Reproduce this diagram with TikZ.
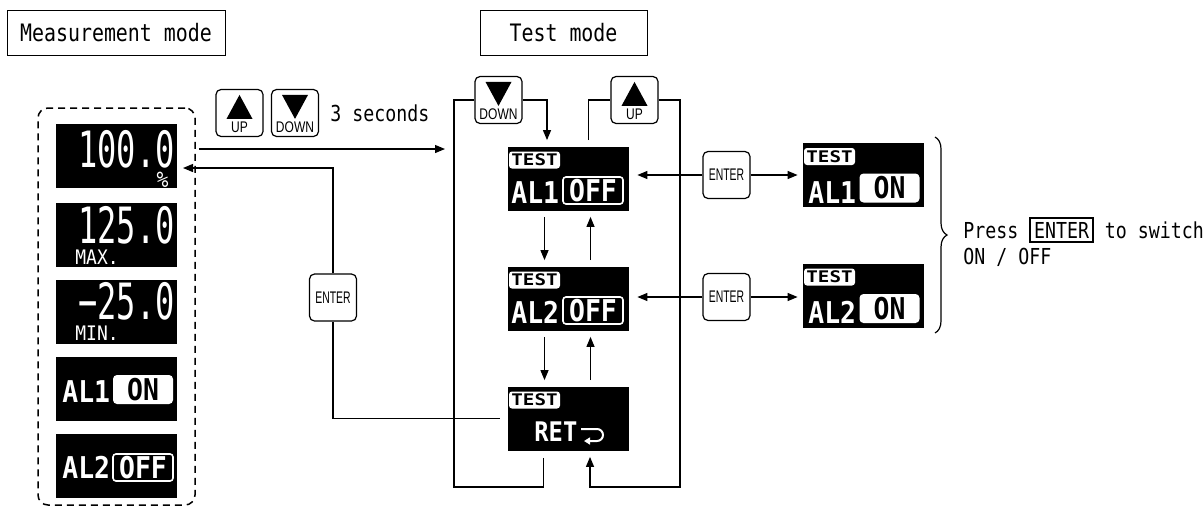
\documentclass[tikz,border=0pt]{standalone}
\usepackage{fontspec}
\setmainfont[FakeStretch=0.83]{DejaVu Sans Mono}
\newfontfamily\lcdthin[FakeStretch=0.64]{DejaVu Sans Mono}
\newfontfamily\lcdsmall[FakeStretch=0.9]{DejaVu Sans Mono}
\newfontfamily\lcdbold[FakeStretch=0.88]{DejaVu Sans Mono}
\newfontfamily\lcdtag[FakeStretch=1.2]{DejaVu Sans Mono}
\newfontfamily\keyfont[FakeStretch=0.62]{Liberation Sans}
\newfontfamily\keywide[FakeStretch=0.78]{Liberation Sans}
\usetikzlibrary{arrows.meta, decorations.pathreplacing}
\setlength{\fboxsep}{1.5pt}
\setlength{\fboxrule}{0.9pt}

\begin{document}
\begin{tikzpicture}[x=0.5pt, y=-0.5pt, font=\fontsize{11pt}{13pt}\selectfont,
  >={Triangle[length=5pt,width=4pt]},
  flow/.style={line width=0.6pt},
  titlebox/.style={draw, line width=0.5pt, minimum height=22.5pt, inner sep=0, font=\fontsize{12pt}{13pt}\selectfont},
  lcd/.style={fill=black, minimum width=60.5pt, minimum height=32pt, inner sep=0},
  keybtn/.style={draw, fill=white, line width=0.6pt, rounded corners=2.5pt, minimum width=23.5pt, minimum height=23.5pt, inner sep=0, font=\keyfont\fontsize{8.4pt}{9pt}\selectfont},
  keylabel/.style={inner sep=0, font=\keywide\fontsize{7.7pt}{8pt}\selectfont},
  testtag/.style={fill=white, rounded corners=1.5pt, minimum width=25.5pt, minimum height=8.5pt, inner sep=0, font=\lcdtag\bfseries\fontsize{8pt}{8pt}\selectfont},
  offbox/.style={draw=white, line width=0.8pt, rounded corners=1.5pt, minimum width=30pt, minimum height=13.5pt, inner sep=0, text=white, font=\lcdbold\bfseries\fontsize{15pt}{15pt}\selectfont},
  onbox/.style={fill=white, rounded corners=2pt, minimum width=30pt, minimum height=14.5pt, inner sep=0, text=black, font=\lcdbold\bfseries\fontsize{15pt}{15pt}\selectfont},
  altext/.style={text=white, inner sep=0, anchor=base west, font=\lcdbold\bfseries\fontsize{15pt}{15pt}\selectfont},
  lcddigits/.style={text=white, inner sep=0, anchor=base east, font=\lcdthin\fontsize{25pt}{25pt}\selectfont},
  lcdunit/.style={text=white, inner sep=0, font=\lcdsmall\fontsize{10pt}{10pt}\selectfont}]

\useasboundingbox (0,0) rectangle (1203,509);

%Titles
\node[titlebox, minimum width=109pt] (meastitle) at (116,32.5) {Measurement mode};
\node[titlebox, minimum width=83.5pt] (testtitle) at (563.5,32.5) {Test mode};

%Measurement mode displays
\node[draw, line width=0.75pt, rounded corners=5pt, dash pattern=on 3.5pt off 2.5pt, minimum width=78.5pt, minimum height=198.5pt] (measgroup) at (116.5,306.5) {};
\node[lcd] (d1) at (116.5,156) {};
\node[lcd] (d2) at (116.5,235) {};
\node[lcd] (d3) at (116.5,311.5) {};
\node[lcd] (d4) at (116.5,388.5) {};
\node[lcd] (d5) at (116.5,466) {};

\node[lcddigits] (d1val) at (175,167) {100.0};
\node[lcdunit, anchor=base east, font=\lcdsmall\fontsize{11pt}{11pt}\selectfont] (d1unit) at (169,187) {\%};
\node[lcddigits] (d2val) at (175,243) {125.0};
\node[lcdunit, anchor=base west] (d2unit) at (75,264) {MAX.};
\node[lcddigits] (d3val) at (175,319) {−25.0};
\node[lcdunit, anchor=base west] (d3unit) at (75,340) {MIN.};
\node[altext] (d4al) at (62,402) {AL1};
\node[onbox] (d4on) at (143,389.5) {ON};
\node[altext] (d5al) at (62,478) {AL2};
\node[offbox] (d5off) at (143,467.5) {OFF};

%Keys
\node[keybtn] (up1) at (239.5,113) {};
\node[keybtn] (down1) at (295,113) {};
\node[anchor=base west, inner sep=0] (holdtime) at (330,121) {3 seconds};
\node[keybtn] (down2) at (498.5,100) {};
\node[keybtn] (up2) at (634.5,100) {};
\node[keybtn] (enter0) at (333,297.5) {ENTER};
\node[keybtn] (enter1) at (726.5,175) {ENTER};
\node[keybtn] (enter2) at (726.5,297) {ENTER};

\foreach \b in {up1, up2} {
  \fill ([xshift=-6.5pt, yshift=-15pt]\b.north) -- ([xshift=6.5pt, yshift=-15pt]\b.north) -- ([yshift=-3pt]\b.north) -- cycle;
  \node[keylabel] (\b lbl) at ([yshift=-19pt]\b.north) {UP};
}
\foreach \b in {down1, down2} {
  \fill ([xshift=-6.5pt, yshift=-3pt]\b.north) -- ([xshift=6.5pt, yshift=-3pt]\b.north) -- ([yshift=-15pt]\b.north) -- cycle;
  \node[keylabel] (\b lbl) at ([yshift=-19pt]\b.north) {DOWN};
}

%Test mode displays
\node[lcd] (t1) at (568.5,178.5) {};
\node[lcd] (t2) at (568.5,298.5) {};
\node[lcd] (t3) at (568.5,418.5) {};
\node[lcd] (on1) at (863.5,175) {};
\node[lcd] (on2) at (863.5,295.5) {};

\foreach \d in {t1, t2, t3, on1, on2}
  \node[testtag, anchor=north west] (\d tag) at ([xshift=0.5pt, yshift=-2.5pt]\d.north west) {TEST};

\node[altext] (t1al) at (511,203) {AL1};
\node[offbox] (t1off) at (593,190.5) {OFF};
\node[altext] (t2al) at (511,323) {AL2};
\node[offbox] (t2off) at (593,310.5) {OFF};
\node[altext, font=\lcdbold\bfseries\fontsize{13.5pt}{13.5pt}\selectfont] (t3ret) at (534,441) {RET};
\draw[white, line width=1pt, -{Triangle[length=3pt,width=3.5pt]}] (581,429) -- (597,429) arc[start angle=90, end angle=-90, radius=3pt] -- (584,441);
\node[altext] (on1al) at (808,203) {AL1};
\node[onbox] (on1on) at (889.5,188) {ON};
\node[altext] (on2al) at (808,323) {AL2};
\node[onbox] (on2on) at (889.5,308.5) {ON};

%Connectors
\coordinate (holdend) at (445,149);
\coordinate (backend) at (183,168);
\draw[flow, ->, shorten <=1.5pt] (holdend -| measgroup.east) -- (holdend);
\draw[flow, shorten <=4pt] (t3.west) -| (enter0.south);
\draw[flow, ->] (enter0.north) |- (backend);

\draw[flow, shorten <=3.5pt] ([xshift=-12.5pt]t3.south) -- ++(0,36) -| (454,100) -- (down2.west);
\draw[flow, ->, shorten >=3pt] (down2.east) -| ([xshift=-10.75pt]t1.north);
\draw[flow, shorten <=3pt] ([xshift=10pt]t1.north) |- (up2.west);
\draw[flow, ->, shorten >=3pt] (up2.east) -| (680,487) -| ([xshift=10.75pt]t3.south);

\foreach \a/\b in {t1/t2, t2/t3} {
  \draw[flow, ->, shorten <=3pt, shorten >=3pt] ([xshift=-12pt]\a.south) -- ([xshift=-12pt]\b.north);
  \draw[flow, ->, shorten <=3pt, shorten >=3pt] ([xshift=11pt]\b.north) -- ([xshift=11pt]\a.south);
}

\foreach \n in {1,2} {
  \draw[flow, ->, shorten >=4pt] (enter\n.west) -- (enter\n.west -| t\n.east);
  \draw[flow, ->, shorten >=2.5pt] (enter\n.east) -- (enter\n.east -| on\n.west);
}

%Brace and note
\draw[flow, decorate, decoration={brace, amplitude=6pt}] (935,137) -- (935,333);
\node[anchor=base west, inner sep=0] (note1) at (963,238) {Press \fbox{ENTER} to switch};
\node[anchor=base west, inner sep=0] (note2) at (963,264) {ON / OFF};

\end{tikzpicture}
\end{document}
